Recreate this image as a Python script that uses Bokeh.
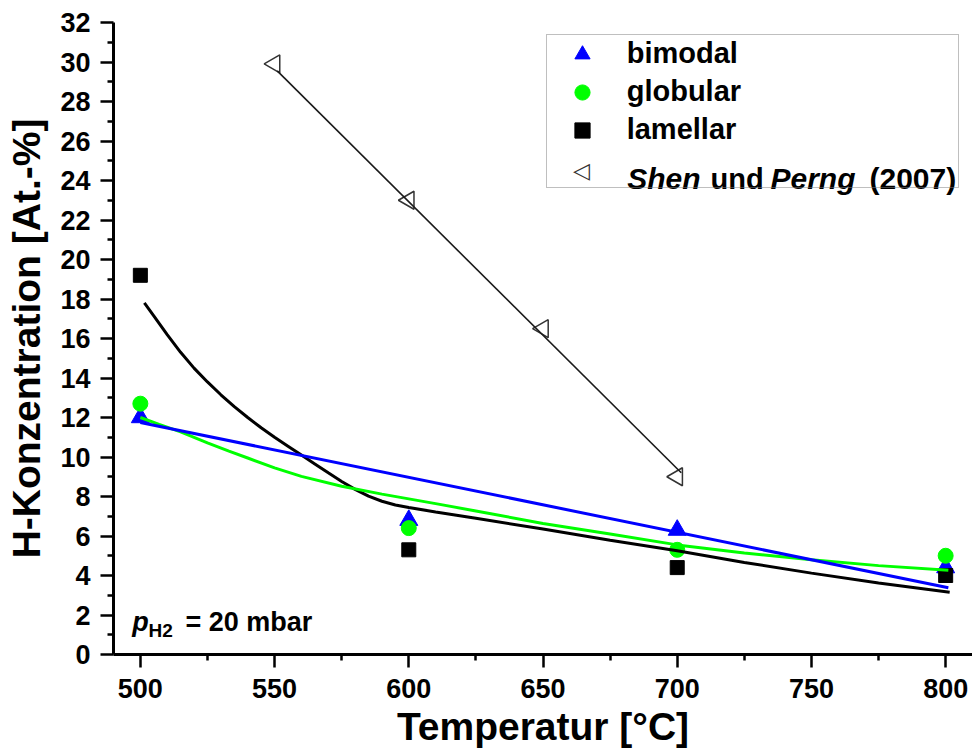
import math
from bokeh.plotting import figure
from bokeh.models import FixedTicker, Legend, LegendItem, Label
from bokeh.embed import file_html
from bokeh.resources import INLINE

# ---- measured data ----
temps = [500, 600, 700, 800]
bimodal = [12.0, 6.8, 6.3, 4.4]
globular = [12.7, 6.4, 5.3, 5.0]
lamellar = [19.2, 5.3, 4.4, 4.0]

shen_temps = [550, 600, 650, 700]
shen_perng = [29.9, 23.0, 16.5, 9.0]

# ---- fit curves ----
bimodal_fit_x = [500, 801]
bimodal_fit_y = [11.75, 3.38]

globular_fit_x = [500, 507, 515, 525, 533, 540, 550, 560, 575, 590, 600, 610, 625, 650, 675, 700, 725, 750, 775, 801]
globular_fit_y = [12.0, 11.65, 11.27, 10.72, 10.3, 9.95, 9.45, 9.02, 8.52, 8.12, 7.88, 7.64, 7.27, 6.63, 6.1, 5.55, 5.14, 4.8, 4.5, 4.26]

lamellar_fit_x = [501.5, 505, 510, 515, 520, 525, 530, 535, 540, 545, 550, 555, 560, 565, 570, 575, 580,
                  585, 590, 595, 600, 610, 625, 650, 675, 700, 725, 750, 775, 801.5]
lamellar_fit_y = [17.8, 17.15, 16.2, 15.3, 14.5, 13.8, 13.15, 12.55, 12.0, 11.48, 11.0, 10.55, 10.1, 9.65,
                  9.2, 8.76, 8.36, 8.02, 7.76, 7.57, 7.44, 7.22, 6.9, 6.35, 5.78, 5.25, 4.66, 4.12, 3.62, 3.15]

shen_fit_x = [551, 701.5]
shen_fit_y = [29.55, 9.2]

# ---- ticks ----
x_major = [500, 550, 600, 650, 700, 750, 800]
x_minor = [525, 575, 625, 675, 725, 775]
y_major = [0, 2, 4, 6, 8, 10, 12, 14, 16, 18, 20, 22, 24, 26, 28, 30, 32]
y_minor = [1, 3, 5, 7, 9, 11, 13, 15, 17, 19, 21, 23, 25, 27, 29, 31]

FONT = "Liberation Sans"

p = figure(width=972, height=751, x_range=(490, 810), y_range=(0, 32),
           output_backend="svg", toolbar_location=None,
           min_border_left=113, min_border_right=0,
           min_border_top=22, min_border_bottom=97)
p.outline_line_color = None
p.grid.visible = False
p.background_fill_color = "white"

p.xaxis.ticker = FixedTicker(ticks=x_major, minor_ticks=x_minor)
p.yaxis.ticker = FixedTicker(ticks=y_major, minor_ticks=y_minor)
p.xaxis.axis_label = "Temperatur [°C]"
p.yaxis.axis_label = "H-Konzentration [At.-%]"

for ax in (p.xaxis[0], p.yaxis[0]):
    ax.axis_line_width = 3
    ax.axis_line_color = "black"
    ax.major_tick_line_width = 2.5
    ax.minor_tick_line_width = 2.5
    ax.major_tick_line_color = "black"
    ax.minor_tick_line_color = "black"
    ax.major_tick_out = 13
    ax.major_tick_in = 0
    ax.minor_tick_out = 6
    ax.minor_tick_in = 0
    ax.major_label_text_font = FONT
    ax.major_label_text_font_style = "bold"
    ax.major_label_text_font_size = "27px"
    ax.major_label_text_color = "black"
    ax.axis_label_text_font = FONT
    ax.axis_label_text_font_style = "bold"
    ax.axis_label_text_font_size = "39px"
    ax.axis_label_text_color = "black"

p.xaxis.major_label_standoff = 11
p.xaxis.axis_label_standoff = 4
p.yaxis.major_label_standoff = 10
p.yaxis.axis_label_standoff = 9

# ---- markers ----
r_b = p.scatter(temps, bimodal, marker="triangle", size=18,
                fill_color="#0000ff", line_color="#0000ff")
r_g = p.scatter(temps, globular, marker="circle", size=15,
                fill_color="#00ff00", line_color="#00ff00")
r_l = p.scatter(temps, lamellar, marker="square", size=14,
                fill_color="black", line_color="black")
r_s = p.scatter(shen_temps, shen_perng, marker="triangle", angle=math.pi / 2, size=18,
                fill_color=None, line_color="#333333", line_width=1.5)

# ---- fit lines ----
p.line(shen_fit_x, shen_fit_y, line_color="#1a1a1a", line_width=1.6)
p.line(lamellar_fit_x, lamellar_fit_y, line_color="black", line_width=3)
p.line(globular_fit_x, globular_fit_y, line_color="#00ff00", line_width=3)
p.line(bimodal_fit_x, bimodal_fit_y, line_color="#0000ff", line_width=3)

# invisible stand-in so the legend row keeps its place (glyph drawn as text below)
r_dummy = p.scatter([], [], marker="circle", size=1, fill_alpha=0, line_alpha=0)

# ---- legend ----
legend = Legend(
    items=[LegendItem(label="bimodal", renderers=[r_b]),
           LegendItem(label="globular", renderers=[r_g]),
           LegendItem(label="lamellar", renderers=[r_l]),
           LegendItem(label=" ", renderers=[r_dummy])],
    location=(432.7, 466.3), padding=0, spacing=0, margin=0,
    glyph_width=70, glyph_height=38, label_height=38, label_width=331,
    label_standoff=10,
    label_text_font=FONT, label_text_font_size="29px", label_text_font_style="bold",
    label_text_color="black",
    border_line_color="#808080", border_line_width=1,
    background_fill_alpha=0.0,
)
p.add_layout(legend)

def lab(text, x, y, size, style, font=FONT, color="black", align="left", baseline="alphabetic"):
    p.add_layout(Label(x=x, y=y, x_units="screen", y_units="screen", text=text,
                       text_font=font, text_font_size=size, text_font_style=style,
                       text_color=color, text_baseline=baseline, text_align=align))

lab("\u25C1", 468, 484, "22px", "normal", font="DejaVu Sans", color="#333333",
    align="center", baseline="middle")
lab("Shen", 513.7, 475.7, "30px", "bold italic")
lab("und", 597, 475.7, "29px", "bold")
lab("Perng", 657, 475.7, "30px", "bold italic")
lab("(2007)", 756, 475.7, "30px", "bold")

# pressure note
lab("p", 18.7, 32.3, "27px", "bold italic")
lab("H2", 35, 24, "19px", "bold")
lab("= 20 mbar", 72, 32.3, "27px", "bold")

open("out.html", "w").write(file_html(p, INLINE))
